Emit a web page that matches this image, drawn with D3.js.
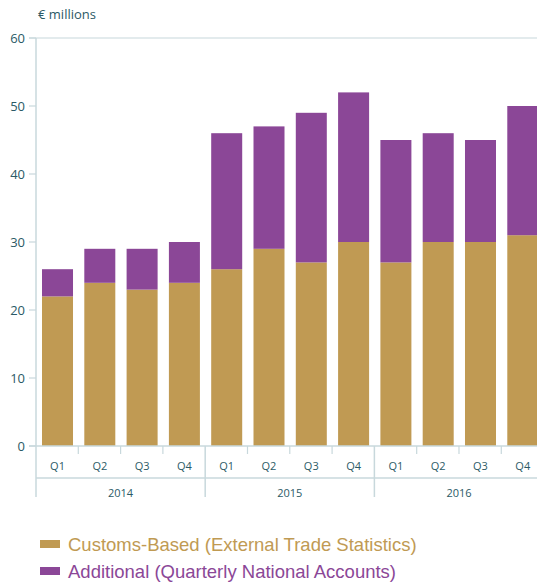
<!DOCTYPE html>
<html>
<head>
<meta charset="utf-8">
<script src="https://cdn.jsdelivr.net/npm/d3@7"></script>
<style>
  body { margin: 0; background: #fff; }
  svg text { font-family: "Open Sans", "Noto Sans", sans-serif; }
</style>
</head>
<body>
<div id="chart"></div>
<script>
// data
const years = ["2014", "2015", "2016"];
const quarters = ["Q1", "Q2", "Q3", "Q4"];
const customs = [22, 24, 23, 24, 26, 29, 27, 30, 27, 30, 30, 31];
const additional = [4, 5, 6, 6, 20, 18, 22, 22, 18, 16, 15, 19];
const yTicks = [0, 10, 20, 30, 40, 50, 60];
const seriesNames = ["Customs-Based (External Trade Statistics)", "Additional (Quarterly National Accounts)"];
const colors = ["#c09a53", "#8b4797"];

var width = 537;
var height = 583;
var axisColor = "#c8d8dc";
var textColor = "#2b5a66";

var svg = d3.select("#chart").append("svg")
  .attr("width", width)
  .attr("height", height);

var margin = { top: 38, left: 36, right: 537, bottom: 446 };

// one band per quarter, the last bar runs off the right edge like the original
var keys = [];
years.forEach(y => quarters.forEach(q => keys.push(y + "-" + q)));

var x = d3.scaleBand()
  .domain(keys)
  .range([margin.left, 544.3])
  .paddingInner(0.267)
  .paddingOuter(0.142);

var y = d3.scaleLinear()
  .domain([0, 60])
  .range([margin.bottom, margin.top]);

// stacked data
var rows = keys.map((k, i) => ({ key: k, customs: customs[i], additional: additional[i] }));
var stack = d3.stack().keys(["customs", "additional"])(rows);

svg.append("g")
  .selectAll("g")
  .data(stack)
  .enter()
  .append("g")
  .attr("fill", (d, i) => colors[i])
  .selectAll("rect")
  .data(d => d)
  .enter()
  .append("rect")
  .attr("x", d => x(d.data.key))
  .attr("y", d => y(d[1]))
  .attr("width", x.bandwidth())
  .attr("height", d => y(d[0]) - y(d[1]));

// y axis
var yAxis = svg.append("g");
yAxis.append("line")
  .attr("x1", margin.left).attr("x2", margin.left)
  .attr("y1", y(60)).attr("y2", 497)
  .attr("stroke", axisColor).attr("stroke-width", 1.5);
yAxis.append("line")
  .attr("x1", 29).attr("x2", margin.right)
  .attr("y1", y(60)).attr("y2", y(60))
  .attr("stroke", axisColor).attr("stroke-width", 1.2);
yAxis.selectAll(".ytick")
  .data(yTicks)
  .enter()
  .append("line")
  .attr("x1", 29).attr("x2", margin.left)
  .attr("y1", d => y(d)).attr("y2", d => y(d))
  .attr("stroke", axisColor).attr("stroke-width", 1.2);
yAxis.selectAll(".ylab")
  .data(yTicks)
  .enter()
  .append("text")
  .attr("x", 25)
  .attr("y", d => y(d) + 4.5)
  .attr("text-anchor", "end")
  .attr("fill", textColor)
  .style("font-size", "13px")
  .text(d => d);

svg.append("text")
  .attr("x", 38).attr("y", 19)
  .attr("fill", textColor)
  .style("font-size", "13px")
  .text("€ millions");

// baseline
svg.append("line")
  .attr("x1", 29).attr("x2", margin.right)
  .attr("y1", y(0)).attr("y2", y(0))
  .attr("stroke", axisColor).attr("stroke-width", 1.5);
// line under the quarter labels
svg.append("line")
  .attr("x1", margin.left).attr("x2", margin.right)
  .attr("y1", 478).attr("y2", 478)
  .attr("stroke", axisColor).attr("stroke-width", 1.5);

var step = x.step();
var sep = i => margin.left + step * i;
// quarter separators
svg.selectAll(".qtick")
  .data(d3.range(1, keys.length).filter(i => i % 4 != 0))
  .enter()
  .append("line")
  .attr("x1", d => sep(d)).attr("x2", d => sep(d))
  .attr("y1", y(0)).attr("y2", 454)
  .attr("stroke", axisColor).attr("stroke-width", 1.2);
// year separators
svg.selectAll(".yeartick")
  .data([4, 8])
  .enter()
  .append("line")
  .attr("x1", d => sep(d)).attr("x2", d => sep(d))
  .attr("y1", y(0)).attr("y2", 497)
  .attr("stroke", axisColor).attr("stroke-width", 1.5);

svg.selectAll(".qlab")
  .data(keys)
  .enter()
  .append("text")
  .attr("x", d => x(d) + x.bandwidth() / 2)
  .attr("y", 470)
  .attr("text-anchor", "middle")
  .attr("fill", textColor)
  .style("font-size", "11px")
  .text(d => d.split("-")[1]);

svg.selectAll(".yearlab")
  .data(years)
  .enter()
  .append("text")
  .attr("x", (d, i) => (sep(i * 4) + sep(i * 4 + 4)) / 2)
  .attr("y", 497)
  .attr("text-anchor", "middle")
  .attr("fill", textColor)
  .style("font-size", "11px")
  .text(d => d);

// legend
var legend = svg.append("g");
seriesNames.forEach((name, i) => {
  legend.append("rect")
    .attr("x", 40).attr("y", 540 + i * 27)
    .attr("width", 20).attr("height", 8)
    .attr("fill", colors[i]);
  legend.append("text")
    .attr("x", 68).attr("y", 551 + i * 27)
    .attr("fill", colors[i])
    .style("font-family", "'Liberation Sans', Arial, sans-serif")
    .style("font-size", "18.5px")
    .text(name);
});
</script>
</body>
</html>
